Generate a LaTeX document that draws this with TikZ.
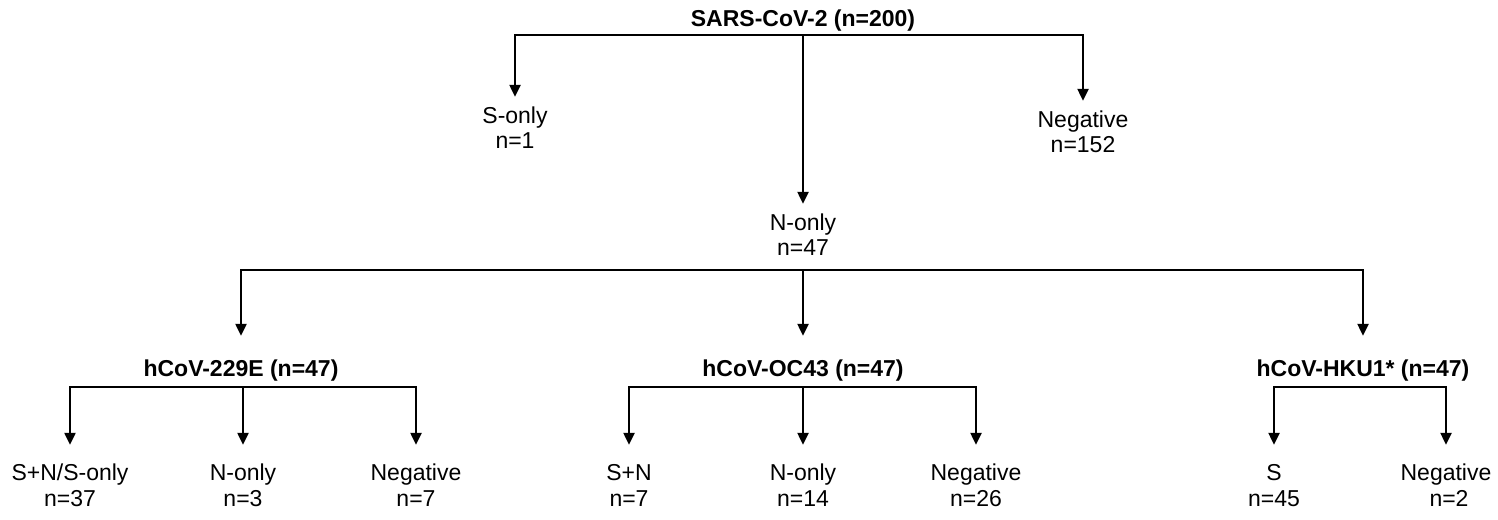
\documentclass[tikz,border=0pt]{standalone}
\usepackage{fontspec}
\setmainfont{Liberation Sans}
\usetikzlibrary{arrows.meta}
\begin{document}
\begin{tikzpicture}[x=1pt,y=1pt,
  lbl/.style={inner sep=0pt, anchor=base, text height=16pt, text depth=5pt, font=\fontsize{23}{25}\selectfont},
  hdr/.style={lbl, font=\fontsize{23}{25}\selectfont\bfseries},
  ln/.style={line width=2.3pt, line join=miter},
  arrbase/.style={ln, -{Triangle[length=12pt,width=11pt]}},
  arrA/.style={arrbase, shorten >=10pt},
  arrB/.style={arrbase, shorten >=24pt},
  arrC/.style={arrbase, shorten >=19pt}]
\useasboundingbox (0,0) rectangle (1498,-519);

% level 0 and 1
\node[hdr] (root) at (803,-27) {SARS-CoV-2 (n=200)};
\node[lbl] (son) at (515,-123) {S-only};
\node[lbl] (son2) at ([yshift=-25pt]son.base) {n=1};
\node[lbl] (neg) at (1083,-127) {Negative};
\node[lbl] (neg2) at ([yshift=-25pt]neg.base) {n=152};
\node[lbl] (non) at (803,-230) {N-only};
\node[lbl] (non2) at ([yshift=-25pt]non.base) {n=47};

\coordinate (jA) at ([yshift=-8pt]root.base);
\draw[arrA] (jA) -| (son.north);
\draw[arrA] (jA) -| (neg.north);
\draw[arrA] (jA) -- (non.north);

% level 2
\node[hdr] (h1) at (241,-376) {hCoV-229E (n=47)};
\node[hdr] (h2) at (803,-376) {hCoV-OC43 (n=47)};
\node[hdr] (h3) at (1363,-376) {hCoV-HKU1* (n=47)};

\coordinate (jB) at ([yshift=-15pt]non2.base);
\draw[arrB] (jB) -| (h1.north);
\draw[arrB] (jB) -| (h3.north);
\draw[arrB] (jB) -- (h2.north);

% level 3
\node[lbl] (l11) at (70,-480) {S+N/S-only};
\node[lbl] (l11b) at ([yshift=-26pt]l11.base) {n=37};
\node[lbl] (l12) at (243,-480) {N-only};
\node[lbl] (l12b) at ([yshift=-26pt]l12.base) {n=3};
\node[lbl] (l13) at (416,-480) {Negative};
\node[lbl] (l13b) at ([yshift=-26pt]l13.base) {n=7};

\node[lbl] (l21) at (629,-480) {S+N};
\node[lbl] (l21b) at ([yshift=-26pt]l21.base) {n=7};
\node[lbl] (l22) at (803,-480) {N-only};
\node[lbl] (l22b) at ([yshift=-26pt]l22.base) {n=14};
\node[lbl] (l23) at (976,-480) {Negative};
\node[lbl] (l23b) at ([yshift=-26pt]l23.base) {n=26};

\node[lbl] (l31) at (1274,-480) {S};
\node[lbl] (l31b) at ([yshift=-26pt]l31.base) {n=45};
\node[lbl] (l32) at (1446,-480) {Negative};
\node[lbl] (l32b) at ([xshift=3pt,yshift=-26pt]l32.base) {n=2};

\coordinate (jC1) at ([yshift=-11pt]h1.base);
\coordinate (jC2) at ([yshift=-11pt]h2.base);
\coordinate (jC3) at ([yshift=-11pt]h3.base);
\draw[arrC] (jC1) -| (l11.north);
\draw[arrC] (jC1) -| (l12.north);
\draw[arrC] (jC1) -| (l13.north);
\draw[arrC] (jC2) -| (l21.north);
\draw[arrC] (jC2) -| (l22.north);
\draw[arrC] (jC2) -| (l23.north);
\draw[arrC] (jC3) -| (l31.north);
\draw[arrC] (jC3) -| (l32.north);
\end{tikzpicture}
\end{document}
